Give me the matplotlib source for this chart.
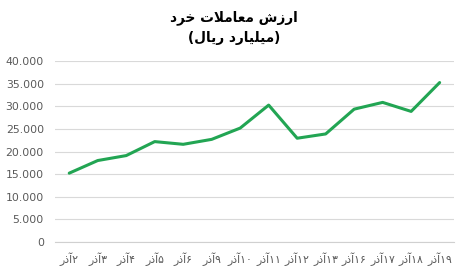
import matplotlib
matplotlib.use("Agg")
import matplotlib.pyplot as plt
from matplotlib.ticker import FuncFormatter

plt.rcParams['font.family'] = ['DejaVu Sans']

# days of Azar (left to right) and retail trade value (billion rials)
days = ["۲", "۳", "۴", "۵", "۶", "۹", "۱۰", "۱۱", "۱۲", "۱۳", "۱۶", "۱۷", "۱۸", "۱۹"]
values = [15200, 18000, 19100, 22200, 21600, 22700, 25200, 30300,
          22950, 23900, 29400, 30900, 28900, 35300]

# matplotlib has no bidi/shaping, so the Persian text is given in visual order
# with presentation forms: "آذر" and the title "ارزش معاملات خرد" / "(میلیارد ریال)"
azar = "\u0631\u0630\u0622"
title_1 = ("\uFEA9\uFEAE\uFEA7 "
           "\uFE95\uFEFC\uFEE3\uFE8E\uFECC\uFEE3 "
           "\uFEB5\uFEAF\uFEAD\uFE8D")
title_2 = ("(\uFEDD\uFE8E\uFEF3\uFEAD "
           "\uFEA9\uFEAD\uFE8E\uFEF4\uFEE0\uFEF4\uFEE3)")
labels = [azar + d for d in days]

fig = plt.figure(figsize=(4.66, 2.74), dpi=100)
ax = fig.add_axes([0.118, 0.118, 0.856, 0.658])

x = range(len(values))
ax.plot(x, values, color='#22a553', linewidth=2.2, solid_capstyle='round',
        solid_joinstyle='round', zorder=3)

ax.set_xlim(-0.5, len(values) - 0.5)
ax.set_ylim(0, 40000)
ax.set_yticks(range(0, 40001, 5000))
ax.yaxis.set_major_formatter(FuncFormatter(lambda v, p: f"{int(v):,}".replace(",", ".")))
ax.set_xticks(list(x))
ax.set_xticklabels(labels)

ax.grid(axis='y', color='#d9d9d9', linewidth=0.8)
ax.set_axisbelow(True)
for s in ['top', 'right', 'left']:
    ax.spines[s].set_visible(False)
ax.spines['bottom'].set_color('#d0d0d0')
ax.spines['bottom'].set_linewidth(0.8)
ax.tick_params(axis='both', length=0, colors='#595959', labelsize=7.8)
ax.tick_params(axis='y', pad=8)
ax.tick_params(axis='x', pad=8)

fig.text(0.502, 0.935, title_1, ha='center', va='center', fontsize=9.8,
         fontweight='bold', color='#000000')
fig.text(0.502, 0.862, title_2, ha='center', va='center', fontsize=9.8,
         fontweight='bold', color='#000000')

fig.savefig("out.png", dpi=100, facecolor='white')
